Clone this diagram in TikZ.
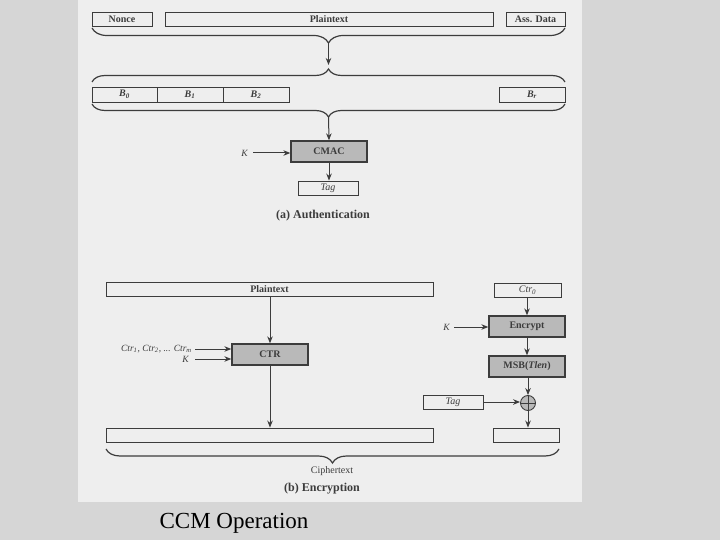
\documentclass[tikz,border=0pt]{standalone}
\usepackage{fontspec}
\setmainfont{Liberation Serif}
\usetikzlibrary{decorations.pathreplacing,arrows.meta}
\definecolor{bgmarble}{RGB}{214,214,214}
\definecolor{panel}{RGB}{238,238,238}
\definecolor{ink}{RGB}{60,60,60}
\definecolor{boxgray}{RGB}{185,185,185}
\tikzset{
  lbl/.style={font=\fontsize{10}{11}\selectfont\bfseries, text=ink},
  box/.style={draw=ink, line width=0.9pt, inner sep=0pt, lbl},
  gbox/.style={box, fill=boxgray, line width=1.3pt},
  arr/.style={draw=ink, line width=1pt, -{Stealth[length=7pt,width=5.5pt]}},
  brc/.style={draw=ink, line width=1.2pt, decorate},
  sub/.style={font=\fontsize{12}{14}\selectfont\bfseries, text=ink},
  plain/.style={font=\fontsize{9.5}{10}\selectfont\itshape, text=ink, inner sep=1pt}
}
\begin{document}
\begin{tikzpicture}[x=1pt,y=-1pt]
\useasboundingbox (0,0) rectangle (720,540);
\fill[bgmarble] (0,0) rectangle (720,540);
\fill[panel] (78,0) rectangle (582,502);

% (a) Authentication
\node[box, minimum width=60pt, minimum height=14pt] (nonce) at (122,19) {Nonce};
\node[box, minimum width=328pt, minimum height=14pt] (pta) at (329,19) {Plaintext};
\node[box, minimum width=59pt, minimum height=14pt] (ass) at (535.5,19) {Ass. Data};

\draw[brc, decoration={brace, amplitude=15pt}] (565,28) -- (92,28);
\coordinate (b1tip) at (328.5,43);
\draw[brc, decoration={brace, amplitude=13pt}] (92,82) -- (565,82);
\coordinate (b2tip) at (328.5,69);
\draw[arr, shorten >=4pt] (b1tip) -- (b2tip);

\node[box, minimum width=65pt, minimum height=15pt] (b0) at (124.5,94.5) {\itshape B\textsubscript{0}};
\node[box, minimum width=66pt, minimum height=15pt] (b1) at (190,94.5) {\itshape B\textsubscript{1}};
\node[box, minimum width=66pt, minimum height=15pt] (b2) at (256,94.5) {\itshape B\textsubscript{2}};
\node[box, minimum width=66pt, minimum height=15pt] (br) at (532,94.5) {\itshape B\textsubscript{r}};

\draw[brc, decoration={brace, amplitude=13pt}] (565,104) -- (92,104);
\coordinate (b3tip) at (328.5,117);

\node[gbox, minimum width=76pt, minimum height=21pt] (cmac) at (329,151.5) {CMAC};
\draw[arr] (b3tip) -- (cmac.north);
\node[plain, anchor=east] (ka) at (249,153) {K};
\draw[arr] (ka.east) ++(4pt,0) -- (ka.east -| cmac.west);
\node[box, minimum width=60pt, minimum height=14pt] (taga) at (328,188) {\mdseries\itshape Tag};
\draw[arr] (cmac.south) -- (cmac.south |- taga.north);
\node[sub] (capa) at (323,216) {(a) Authentication};

% (b) Encryption
\node[box, minimum width=327pt, minimum height=14pt] (ptb) at (269.5,289) {Plaintext};
\node[box, minimum width=67pt, minimum height=14pt] (ctr0) at (527.5,290) {\mdseries\itshape Ctr\textsubscript{0}};
\node[gbox, minimum width=76pt, minimum height=21pt] (ctr) at (270,354.5) {CTR};
\draw[arr] (ptb.south -| ctr.north) -- (ctr.north);
\node[plain, anchor=east] (ctrs) at (193,349) {Ctr\textsubscript{1}, Ctr\textsubscript{2}, ... Ctr\textsubscript{\itshape m}};
\node[plain, anchor=east] (kb) at (190,359) {K};
\draw[arr] (ctrs.east) ++(2pt,0) -- (ctrs.east -| ctr.west);
\draw[arr] (kb.east) ++(5pt,0) -- (kb.east -| ctr.west);

\node[gbox, minimum width=76pt, minimum height=21pt] (enc) at (527,326.5) {Encrypt};
\draw[arr] (ctr0.south -| enc.north) -- (enc.north);
\node[plain, anchor=east] (kc) at (451,327) {K};
\draw[arr] (kc.east) ++(3pt,0) -- (kc.east -| enc.west);
\node[gbox, minimum width=76pt, minimum height=21pt] (msb) at (527,366.5) {MSB(\textit{Tlen})};
\draw[arr] (enc.south) -- (msb.north);

\node[circle, draw=ink, fill=boxgray, line width=0.9pt, minimum size=15pt, inner sep=0pt] (xor) at (528,403) {};
\draw[ink, line width=0.8pt] (xor.north) -- (xor.south) (xor.west) -- (xor.east);
\draw[arr] (msb.south -| xor.north) -- (xor.north);
\node[box, minimum width=60pt, minimum height=14pt] (tagb) at (453,402) {\mdseries\itshape Tag};
\draw[arr] (tagb.east) -- (tagb.east -| xor.west);

\node[box, minimum width=327pt, minimum height=14pt] (c1) at (269.5,435) {};
\node[box, minimum width=66pt, minimum height=14pt] (c2) at (526,435) {};
\draw[arr] (ctr.south) -- (ctr.south |- c1.north);
\draw[arr] (xor.south) -- (xor.south |- c2.north);

\draw[brc, decoration={brace, amplitude=14pt}] (559,449) -- (106,449);
\node[font=\fontsize{10}{11}\selectfont, text=ink] (ciph) at (332,471) {Ciphertext};
\node[sub] (capb) at (322,489) {(b) Encryption};

\node[font=\fontsize{23}{26}\selectfont] (title) at (234,523) {CCM Operation};
\end{tikzpicture}
\end{document}
